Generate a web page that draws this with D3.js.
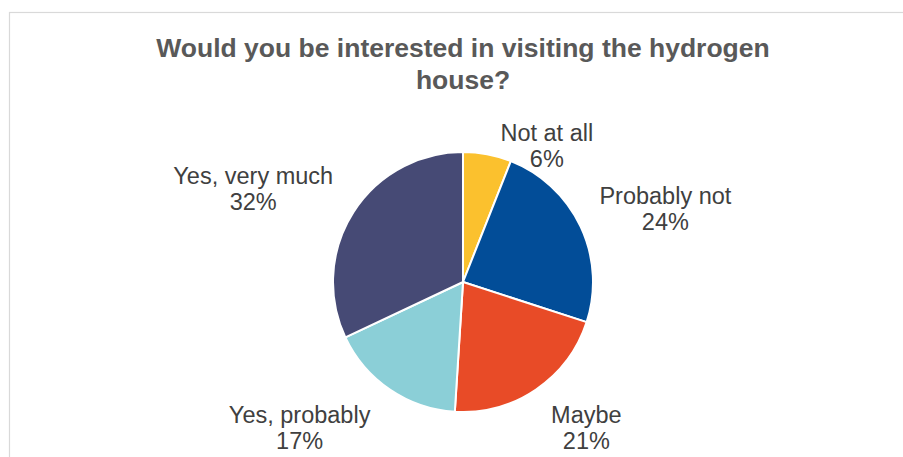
<!DOCTYPE html>
<html>
<head>
<meta charset="utf-8">
<script src="https://cdn.jsdelivr.net/npm/d3@7"></script>
<style>
  html, body { margin: 0; padding: 0; background: #ffffff; }
  svg { display: block; }
</style>
</head>
<body>
<svg id="chart" width="903" height="457"></svg>
<script>
// Survey answers, in drawing order clockwise from 12 o'clock
const categories = ["Not at all", "Probably not", "Maybe", "Yes, probably", "Yes, very much"];
const shares = [6, 24, 21, 17, 32];
const sliceColors = ["#FBC12E", "#024D98", "#E84B27", "#8BCFD7", "#464A75"];
const titleLines = ["Would you be interested in visiting the hydrogen", "house?"];

const width = 903, height = 457;
const cx = 463, cy = 282, radius = 130;

const svg = d3.select("#chart");

// chart area frame
svg.append("rect")
  .attr("x", 9.5).attr("y", 12.5)
  .attr("width", width + 10).attr("height", height + 10)
  .attr("fill", "#ffffff")
  .attr("stroke", "#d9d9d9")
  .attr("stroke-width", 1.2);

// title
svg.append("g")
  .selectAll("text")
  .data(titleLines)
  .join("text")
  .attr("x", cx)
  .attr("y", (d, i) => 57 + i * 32)
  .attr("text-anchor", "middle")
  .attr("font-family", "'Liberation Sans', Arial, sans-serif")
  .attr("font-size", 26.5)
  .attr("font-weight", "bold")
  .attr("fill", "#595959")
  .text(d => d);

const data = categories.map((c, i) => ({ label: c, value: shares[i], color: sliceColors[i] }));

const pie = d3.pie().sort(null).value(d => d.value);
const arcs = pie(data);

const arc = d3.arc().innerRadius(0).outerRadius(radius);
const labelArc = d3.arc().innerRadius(175).outerRadius(175);

const g = svg.append("g").attr("transform", `translate(${cx},${cy})`);

g.selectAll("path")
  .data(arcs)
  .join("path")
  .attr("d", arc)
  .attr("fill", d => d.data.color)
  .attr("stroke", "#ffffff")
  .attr("stroke-width", 2)
  .attr("stroke-linejoin", "round");

// "best fit" label placement: start from the slice's outer centroid and
// slide each label clear of the pie
const labelShift = {
  "Not at all": [51, 31],
  "Probably not": [44, -3],
  "Maybe": [25, -4],
  "Yes, probably": [-65, -4],
  "Yes, very much": [-62, -4]
};

const labels = g.selectAll("g.label")
  .data(arcs)
  .join("g")
  .attr("class", "label")
  .attr("transform", d => {
    const [x, y] = labelArc.centroid(d);
    const [dx, dy] = labelShift[d.data.label];
    return `translate(${x + dx},${y + dy})`;
  });

labels.selectAll("text")
  .data(d => [d.data.label, d.data.value + "%"])
  .join("text")
  .attr("x", 0)
  .attr("y", (d, i) => i * 26)
  .attr("text-anchor", "middle")
  .attr("font-family", "'Liberation Sans', Arial, sans-serif")
  .attr("font-size", 23.5)
  .attr("fill", "#404040")
  .text(d => d);
</script>
</body>
</html>
